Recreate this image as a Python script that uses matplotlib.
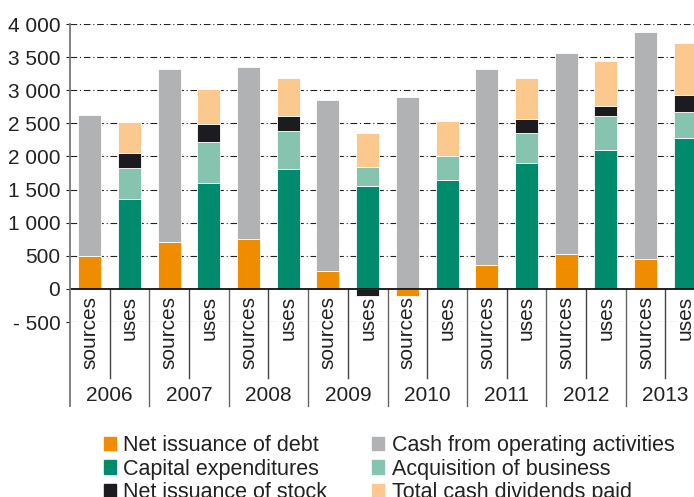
import numpy as np
import matplotlib.pyplot as plt
from matplotlib.patches import Patch

plt.rcParams['font.family'] = ['Liberation Sans', 'DejaVu Sans']

# 数据 (读自图片)
years = ['2006', '2007', '2008', '2009', '2010', '2011', '2012', '2013']
debt = [500, 710, 760, 277, -110, 357, 533, 458]
cash_ops = [2130, 2605, 2585, 2575, 2897, 2958, 3023, 3420]
capex = [1360, 1605, 1811, 1559, 1645, 1906, 2098, 2284]
acquisition = [460, 618, 578, 277, 367, 453, 513, 392]
stock = [235, 267, 222, -110, 0, 206, 150, 252]
dividends = [460, 528, 573, 518, 518, 614, 674, 789]
yticks = [-500, 0, 500, 1000, 1500, 2000, 2500, 3000, 3500, 4000]

c_debt = '#f08c00'
c_cash = '#b1b2b3'
c_capex = '#008c6c'
c_acq = '#87c4b0'
c_stock = '#1c1b20'
c_div = '#fbc98e'

fig = plt.figure(figsize=(6.94, 4.97), dpi=100)
ax = fig.add_axes([70 / 694, 175 / 497, 635 / 694, 298 / 497])

n = len(years)
xs = np.arange(n) * 2 + 0.5   # sources
xu = xs + 1                   # uses
w = 0.58
kw = dict(width=w, edgecolor='white', linewidth=0.6, zorder=3)


def stack(x, series, colors):
    pos = np.zeros(len(x))
    neg = np.zeros(len(x))
    for vals, col in zip(series, colors):
        vals = np.array(vals, dtype=float)
        bottom = np.where(vals >= 0, pos, neg)
        ax.bar(x, vals, bottom=bottom, color=col, **kw)
        pos = pos + np.where(vals > 0, vals, 0)
        neg = neg + np.where(vals < 0, vals, 0)


stack(xs, [debt, cash_ops], [c_debt, c_cash])
stack(xu, [capex, acquisition, stock, dividends], [c_capex, c_acq, c_stock, c_div])

ax.set_xlim(0, 2 * n)
ax.set_ylim(-500, 4000)
ax.set_yticks(yticks)
ax.set_yticklabels([('- ' if v < 0 else '') + f'{abs(v):,}'.replace(',', ' ') for v in yticks])
ax.tick_params(axis='y', length=3, width=0.8, labelsize=15, pad=4, colors='#222222')
ax.set_xticks([])
for s in ax.spines.values():
    s.set_visible(False)

for v in yticks:
    if v != 0:
        ax.axhline(v, color='#222222', lw=0.8, ls=(0, (6, 2.5, 1, 2.5)), zorder=1)
ax.axhline(0, color='#111111', lw=1.3, zorder=4)

# 分隔线与标签
ax.plot([0, 0], [-1766, 4000], color='#777777', lw=1.3, clip_on=False, zorder=4)
for i in range(n):
    ax.plot([2 * i + 2] * 2, [0, -1766], color='#666666', lw=1.0, clip_on=False)
    ax.plot([2 * i + 1] * 2, [0, -1343], color='#444444', lw=1.0, clip_on=False)
    ax.text(xs[i], -110, 'sources', rotation=90, ha='center', va='top', fontsize=15,
            color='#222222', clip_on=False, zorder=5)
    ax.text(xu[i], -110, 'uses', rotation=90, ha='center', va='top', fontsize=15,
            color='#222222', clip_on=False, zorder=5)
    ax.text(2 * i + 1, -1610, years[i], ha='center', va='center', fontsize=15,
            color='#222222', clip_on=False)

handles = [Patch(color=c_debt), Patch(color=c_capex), Patch(color=c_stock),
           Patch(color=c_cash), Patch(color=c_acq), Patch(color=c_div)]
labels = ['Net issuance of debt', 'Capital expenditures', 'Net issuance of stock',
          'Cash from operating activities', 'Acquisition of business', 'Total cash dividends paid']
leg = fig.legend(handles, labels, ncol=2, loc='upper left', bbox_to_anchor=(104 / 694, 62 / 497),
                 frameon=False, fontsize=15.5, handlelength=0.56, handleheight=0.56,
                 handletextpad=0.33, labelspacing=0.12, columnspacing=2.1, borderpad=0,
                 borderaxespad=0)
for t in leg.get_texts():
    t.set_color('#222222')

fig.savefig('out.png', dpi=100)
